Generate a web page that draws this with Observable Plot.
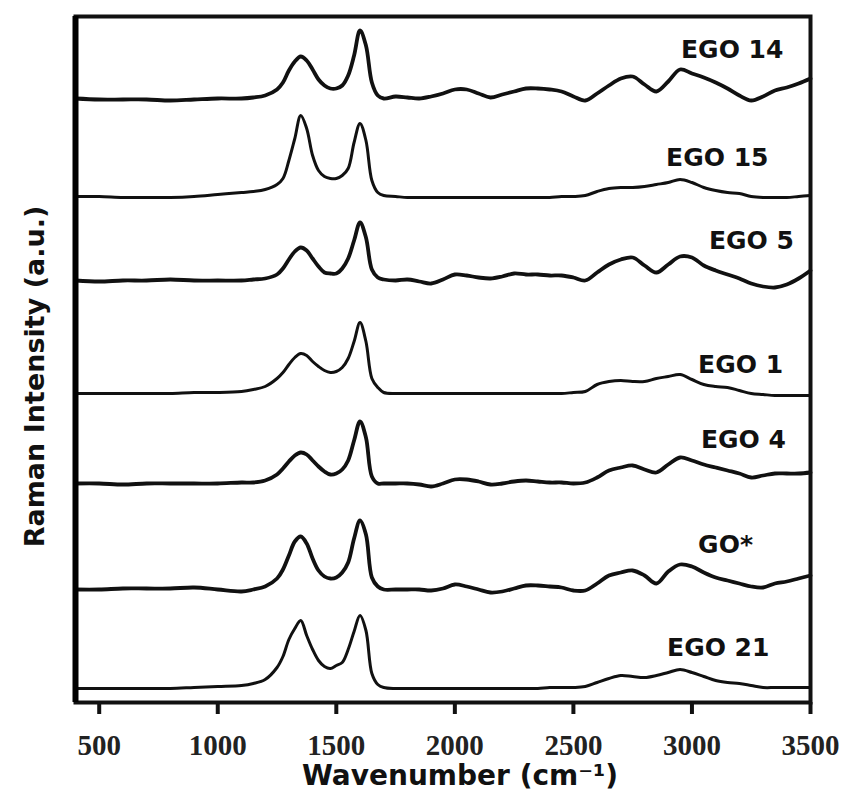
<!DOCTYPE html>
<html>
<head>
<meta charset="utf-8">
<script src="https://cdn.jsdelivr.net/npm/d3@7"></script>
<script src="https://cdn.jsdelivr.net/npm/@observablehq/plot@0.6"></script>
<style>
  html, body { margin: 0; padding: 0; background: #ffffff; }
  #chart svg { display: block; }
</style>
</head>
<body>
<div id="chart"></div>
<script>
// Raman shift grid (cm-1)
const wavenumbers = [400,500,600,700,800,900,1000,1100,1150,1200,
  1250,1275,1300,1325,1350,1375,1400,1425,1450,1475,
  1500,1525,1550,1575,1600,1625,1650,1675,1700,1750,
  1800,1850,1900,1950,2000,2050,2100,2150,2200,2250,
  2300,2350,2400,2450,2500,2550,2600,2650,2700,2750,
  2800,2850,2900,2950,3000,3050,3100,3150,3200,3250,
  3300,3350,3400,3450,3500];

// sample names (top to bottom) and vertical stacking offsets (a.u.)
const seriesNames = ["EGO 14","EGO 15","EGO 5","EGO 1","EGO 4","GO*","EGO 21"];
const offsets = [604, 506, 422, 309, 219, 113, 14];

// intensities above each baseline (a.u.)
const ego14 = [0,-1,-1,-1,-2,-1,0,0,1,3, 9,16,28,37,42,38,29,19,13,10, 10,13,23,43,68,53,16,3,0,2, 1,0,2,5,9,9,5,1,4,7, 10,10,9,7,2,-2,5,13,20,22, 14,7,17,29,25,21,16,10,3,-2, 2,8,11,15,20];
const ego15 = [0,0,-1,-1,-1,0,2,4,5,7, 12,18,36,58,81,68,41,26,20,18, 18,21,28,54,73,56,16,4,1,0, -1,-1,-1,-1,-1,-1,-1,-1,-1,-1, -1,-1,-1,0,0,1,5,8,9,9, 10,12,14,17,14,9,6,4,3,0, -1,-1,-1,0,1];
const ego5  = [0,-1,0,0,1,0,0,0,1,2, 6,12,21,29,33,30,22,14,8,7, 7,12,22,40,58,43,11,3,1,0, 1,-1,-3,1,6,5,3,2,4,7, 6,6,5,5,3,0,8,16,21,23, 15,8,16,24,23,15,10,6,2,-3, -6,-7,-4,2,10];
const ego1  = [0,0,0,0,0,1,1,2,4,7, 15,21,29,36,40,38,32,27,23,21, 22,26,35,52,71,52,15,6,1,0, 0,0,0,0,0,0,0,0,0,0, 0,0,0,0,1,2,9,12,13,12, 12,15,17,19,14,9,7,6,3,0, -1,-2,-2,-2,-2];
const ego4  = [0,0,-1,0,0,0,0,1,1,3, 9,15,22,28,31,29,23,17,12,9, 10,14,23,43,62,46,7,0,0,0, 0,-1,-3,0,4,4,2,-1,0,2, 3,2,1,1,0,1,6,13,16,18, 14,11,19,26,23,19,16,13,10,6, 8,10,10,10,11];
const goStar = [0,0,1,1,1,2,0,-2,0,3, 11,20,34,48,53,46,31,19,13,11, 12,17,27,51,69,55,12,3,0,0, 0,0,-1,1,5,3,0,-3,-2,1, 4,4,3,2,-1,-1,6,14,17,19, 14,6,18,25,23,17,12,9,6,3, 2,6,8,11,14];
const ego21 = [0,0,0,0,0,1,2,3,5,9, 21,32,49,60,68,53,39,28,22,20, 23,26,39,57,73,58,15,4,1,0, 0,0,0,0,0,0,0,0,0,0, 0,0,1,1,1,2,6,10,13,12, 11,13,16,19,16,12,8,6,5,3, 1,1,1,1,1];

// which spectra are visibly noisy (drawn with a heavier line)
const noisy = [true, false, true, false, true, true, false];

// x-axis ticks and label placement (cm-1, a.u.)
const xTicks = [500,1000,1500,2000,2500,3000,3500];
const xDomain = [400, 3500];
const yDomain = [0, 686];
const labelWavenumber = [2954, 2891, 3072, 3026, 3038, 3026, 2895];
const labelHeight = [653, 545, 462, 338, 263, 158, 55];

const xTitle = "Wavenumber (cm\u207B\u00B9)";
const yTitle = "Raman Intensity (a.u.)";

const spectra = [ego14, ego15, ego5, ego1, ego4, goStar, ego21];
const rows = [];
spectra.forEach((vals, i) => {
  vals.forEach((v, j) => {
    rows.push({w: wavenumbers[j], y: offsets[i] + v, series: seriesNames[i], noisy: noisy[i]});
  });
});
const labels = seriesNames.map((n, i) => ({name: n, w: labelWavenumber[i], y: labelHeight[i]}));

const chart = Plot.plot({
  width: 850,
  height: 791,
  marginLeft: 75,
  marginRight: 40,
  marginTop: 16,
  marginBottom: 89,
  style: {background: "#ffffff", color: "#111"},
  x: {domain: xDomain},
  y: {domain: yDomain, axis: null},
  marks: [
    Plot.line(rows.filter(d => !d.noisy), {x: "w", y: "y", z: "series", curve: "catmull-rom", stroke: "#111", strokeWidth: 3}),
    Plot.line(rows.filter(d => d.noisy), {x: "w", y: "y", z: "series", curve: "catmull-rom", stroke: "#111", strokeWidth: 3.8}),
    Plot.text(labels, {x: "w", y: "y", text: "name", textAnchor: "start", lineAnchor: "middle",
      fontSize: 25, fontWeight: "bold", fontFamily: "DejaVu Sans", fill: "#111"}),
    Plot.frame({stroke: "#111", strokeWidth: 4}),
    Plot.ruleX([xDomain[0]], {stroke: "#000", strokeWidth: 6}),
    Plot.axisX({ticks: xTicks, tickFormat: d => String(d), tickSize: 12, tickPadding: 20,
      strokeWidth: 4, stroke: "#111", fontSize: 29, fontWeight: "bold",
      fontFamily: "Liberation Serif", fill: "#222", label: null}),
    Plot.text([xTitle], {text: d => d, frameAnchor: "bottom", textAnchor: "middle", lineAnchor: "middle",
      dx: 17, dy: 74, fontSize: 28, fontWeight: "bold", fontFamily: "DejaVu Sans", fill: "#111"}),
    Plot.text([yTitle], {text: d => d, frameAnchor: "left", textAnchor: "middle", lineAnchor: "middle",
      rotate: -90, dx: -40, dy: 17, fontSize: 27, fontWeight: "bold", fontFamily: "DejaVu Sans", fill: "#111"})
  ]
});
document.getElementById("chart").appendChild(chart);
</script>
</body>
</html>
